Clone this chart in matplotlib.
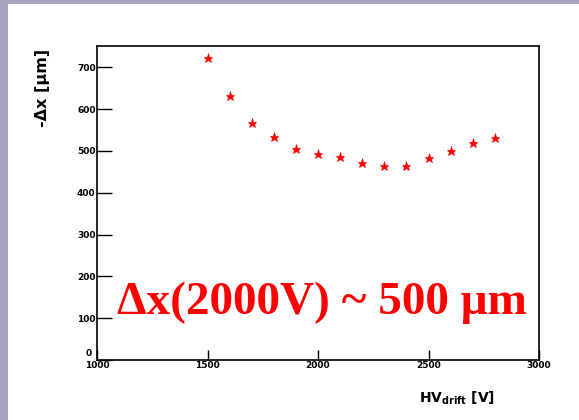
import matplotlib
matplotlib.use("Agg")
import matplotlib.pyplot as plt

# HV drift voltage [V] and resolution [um]
hv = [1500, 1600, 1700, 1800, 1900, 2000, 2100, 2200, 2300, 2400, 2500, 2600, 2700, 2800]
dx = [722, 632, 568, 534, 504, 493, 486, 472, 464, 465, 484, 501, 520, 530]

xticks = [1000, 1500, 2000, 2500, 3000]
yticks = [0, 100, 200, 300, 400, 500, 600, 700]

W, H = 579, 420
fig = plt.figure(figsize=(W / 100, H / 100), dpi=100, facecolor="#aba3c2")

# white slide area behind the plot
bg = fig.add_axes([8 / W, 0, 1 - 8 / W, 1 - 4 / H], zorder=-1)
bg.set_axis_off()
bg.add_patch(plt.Rectangle((0, 0), 1, 1, transform=bg.transAxes, color="white"))

ax = fig.add_axes([97 / W, 1 - 360 / H, (539 - 97) / W, (360 - 46) / H])
ax.set_facecolor("white")
ax.plot(hv, dx, ls="none", marker="*", color="red", markersize=6.5, markeredgewidth=0.5)

ax.set_xlim(1000, 3000)
ax.set_ylim(0, 751)
ax.set_xticks(xticks)
ax.set_yticks(yticks)
ax.set_xticklabels([str(v) for v in xticks], fontsize=6.5, fontweight="bold")
ax.set_yticklabels(["" if v == 0 else str(v) for v in yticks], fontsize=6.5, fontweight="bold")
ax.tick_params(axis="y", direction="in", length=11, width=1, pad=1)
ax.tick_params(axis="x", direction="in", length=7, width=1, pad=1)
for s in ax.spines.values():
    s.set_linewidth(1.2)

# "0" label sits just above the corner
ax.text(-0.012, 0.005, "0", transform=ax.transAxes, ha="right", va="bottom",
        fontsize=6.5, fontweight="bold")

fig.text(42 / W, 1 - 88 / H, "-Δx [μm]", rotation=90, ha="center", va="center",
         fontsize=11.5, fontweight="bold")
fig.text(495 / W, 1 - 398 / H, r"HV$_{\mathbf{drift}}$ [V]", ha="right", va="center",
         fontsize=10, fontweight="bold")

ax.text(322 / W, 1 - 303 / H, "Δx(2000V) ~ 500 μm", transform=fig.transFigure,
        ha="center", va="center", fontsize=34, fontweight="bold", color="red",
        family="Liberation Serif")

fig.savefig("out.png", dpi=100, facecolor=fig.get_facecolor())
